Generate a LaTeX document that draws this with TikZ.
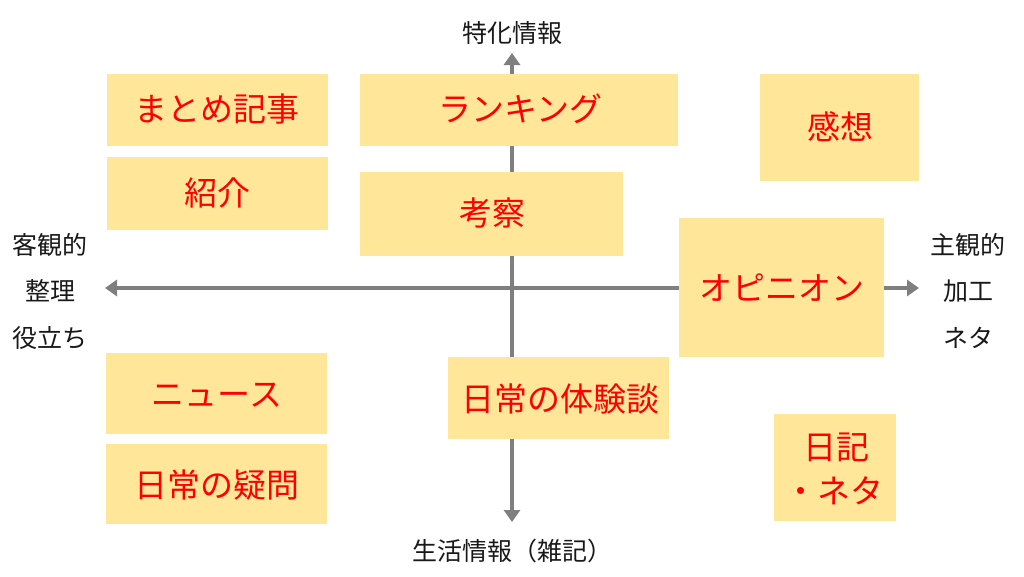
\documentclass[tikz,border=0pt]{standalone}
\usepackage{fontspec}
\setmainfont{Noto Sans CJK JP}
\usetikzlibrary{arrows.meta}
\definecolor{boxfill}{HTML}{FFE699}
\definecolor{axisgray}{HTML}{7F7F7F}
\begin{document}
\begin{tikzpicture}[x=1pt,y=-1pt,
  cbox/.style={fill=boxfill,draw=none,inner sep=0pt},
  ctext/.style={text=red,font=\fontsize{33}{39}\selectfont,inner sep=0pt,align=center},
  ltext/.style={text=black!90,font=\fontsize{25}{29}\selectfont,inner sep=0pt},
  axis/.style={draw=axisgray,line width=4pt,-{Triangle[length=12pt,width=16pt]}}]
\useasboundingbox (0,0) rectangle (1024,576);
% axes
\coordinate (c) at (512,288);
\coordinate (top) at (512,53);
\coordinate (bot) at (512,522);
\coordinate (lft) at (105,288);
\coordinate (rgt) at (919,288);
\draw[axis] (c) -- (top);
\draw[axis] (c) -- (bot);
\draw[axis] (c) -- (lft);
\draw[axis] (c) -- (rgt);
% boxes
\fill[cbox] (107,74) rectangle (328,146);
\fill[cbox] (107,157) rectangle (328,230);
\fill[cbox] (360,74) rectangle (678,146);
\fill[cbox] (360,172) rectangle (623,256);
\fill[cbox] (760,74) rectangle (919,181);
\fill[cbox] (679,218) rectangle (884,357);
\fill[cbox] (106,353) rectangle (327,434);
\fill[cbox] (106,444) rectangle (327,524);
\fill[cbox] (448,357) rectangle (669,439);
\fill[cbox] (774,414) rectangle (896,521);
% box texts
\node[ctext] (matome) at (217,109) {まとめ記事};
\node[ctext] (shokai) at (217,193) {紹介};
\node[ctext] (ranking) at (520,109) {ランキング};
\node[ctext] (kosatsu) at (492,213) {考察};
\node[ctext] (kanso) at (840,127) {感想};
\node[ctext] (opinion) at (782,288) {オピニオン};
\node[ctext] (news) at (217,395) {ニュース};
\node[ctext] (gimon) at (217,485) {日常の疑問};
\node[ctext] (taiken) at (560,399) {日常の体験談};
\node[ctext] (nikki) at (836,447) {日記};
\node[ctext] (neta) at (834,491) {・ネタ};
% axis labels
\node[ltext] (tokka) at (512,33) {特化情報};
\node[ltext] (seikatsu) at (512,551) {生活情報（雑記）};
\node[ltext] (l1) at (50,245) {客観的};
\node[ltext] (l2) at (50,291) {整理};
\node[ltext] (l3) at (50,338) {役立ち};
\node[ltext] (r1) at (968,245) {主観的};
\node[ltext] (r2) at (968,291) {加工};
\node[ltext] (r3) at (968,338) {ネタ};
\end{tikzpicture}
\end{document}
